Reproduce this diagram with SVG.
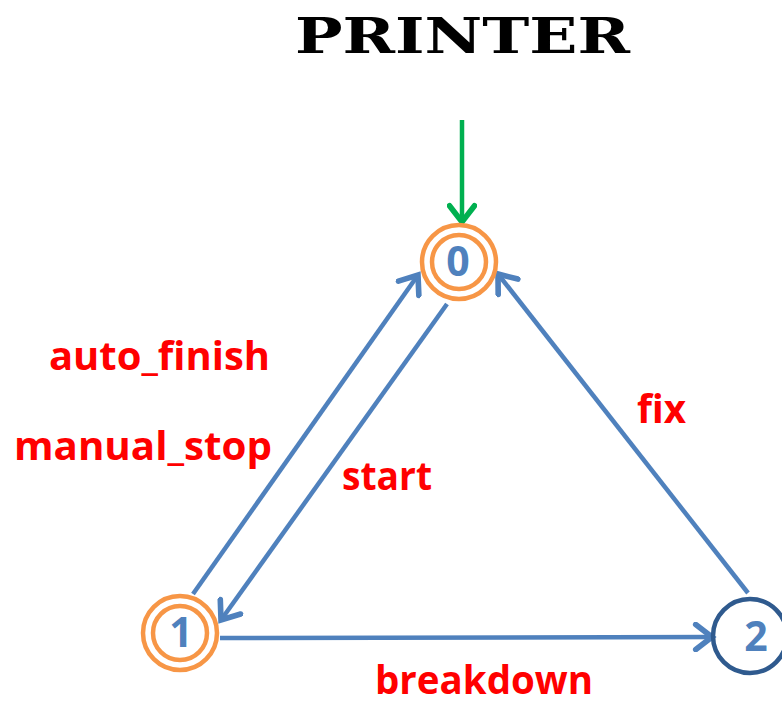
<svg xmlns="http://www.w3.org/2000/svg" width="782" height="705" viewBox="0 0 782 705">
  <style>
    .title { font-family: "DejaVu Serif", "Liberation Serif", serif; font-weight: bold; font-size: 48px; fill: #000; }
    .lbl { font-family: "Open Sans", "Liberation Sans", sans-serif; font-weight: bold; font-size: 40px; fill: #FF0000; }
    .num { font-family: "Open Sans", "Liberation Sans", sans-serif; font-weight: bold; font-size: 41px; fill: #4F81BD; text-anchor: middle; }
    .acc { fill: none; stroke: #F79646; stroke-width: 4.5; }
    .plain { fill: none; stroke: #2F5A8E; stroke-width: 4.5; }
    .edge { fill: none; stroke: #4F81BD; stroke-width: 4.5; }
    .init { fill: none; stroke: #00B050; stroke-width: 4.5; }
  </style>
  <defs>
    <marker id="arrBlue" markerUnits="userSpaceOnUse" markerWidth="30" markerHeight="30" viewBox="-16 -12 20 24" refX="0" refY="0" orient="auto">
      <polyline points="-13,-10 0,0 -13,10" fill="none" stroke="#4F81BD" stroke-width="4.5" stroke-linejoin="miter" stroke-linecap="round"/>
    </marker>
    <marker id="arrGreen" markerUnits="userSpaceOnUse" markerWidth="30" markerHeight="30" viewBox="-16 -12 20 24" refX="0" refY="0" orient="auto">
      <polyline points="-13,-10 0,0 -13,10" fill="none" stroke="#00B050" stroke-width="4.5" stroke-linejoin="miter" stroke-linecap="round"/>
    </marker>
  </defs>

  <rect width="782" height="705" fill="#FFFFFF"/>

  <text class="title" x="295" y="53" textLength="335" lengthAdjust="spacingAndGlyphs">PRINTER</text>

  <!-- transitions -->
  <g id="connectors">
    <line class="init" x1="462" y1="120" x2="462" y2="222" marker-end="url(#arrGreen)"/>
    <line class="edge" x1="193" y1="594" x2="418" y2="275" marker-end="url(#arrBlue)"/>
    <line class="edge" x1="447" y1="304" x2="221" y2="620" marker-end="url(#arrBlue)"/>
    <line class="edge" x1="748" y1="593" x2="498" y2="274" marker-end="url(#arrBlue)"/>
    <line class="edge" x1="220" y1="638" x2="712" y2="637" marker-end="url(#arrBlue)"/>
  </g>

  <!-- states -->
  <g id="state0">
    <circle class="acc" cx="459" cy="262" r="37"/>
    <circle class="acc" cx="459" cy="262" r="27"/>
    <text class="num" x="458" y="276">0</text>
  </g>
  <g id="state1">
    <circle class="acc" cx="180" cy="633" r="37"/>
    <circle class="acc" cx="180" cy="633" r="27"/>
    <text class="num" x="181" y="647">1</text>
  </g>
  <g id="state2">
    <circle class="plain" cx="750" cy="636" r="37"/>
    <text class="num" x="756" y="651">2</text>
  </g>

  <!-- transition labels -->
  <g id="labels">
    <text class="lbl" x="49" y="370" textLength="221" lengthAdjust="spacingAndGlyphs">auto_finish</text>
    <text class="lbl" x="14" y="460" textLength="258" lengthAdjust="spacingAndGlyphs">manual_stop</text>
    <text class="lbl" x="342" y="490" textLength="90" lengthAdjust="spacingAndGlyphs">start</text>
    <text class="lbl" x="637" y="423" textLength="49" lengthAdjust="spacingAndGlyphs">fix</text>
    <text class="lbl" x="375" y="694" textLength="218" lengthAdjust="spacingAndGlyphs">breakdown</text>
  </g>
</svg>
